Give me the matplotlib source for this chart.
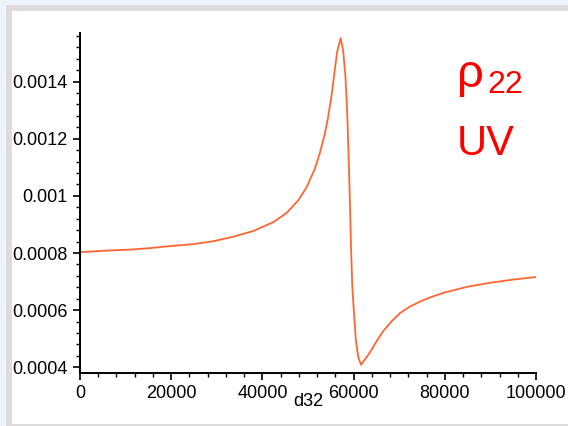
import matplotlib
matplotlib.use("Agg")
import matplotlib.pyplot as plt
from matplotlib.patches import Rectangle
from matplotlib.ticker import MultipleLocator, FixedLocator

# Detuning d32 and population rho_22
d32 = [0, 5500, 11000, 15350, 19000, 24800, 29200, 33600, 38000, 42400,
       45300, 47900, 49700, 51500, 52600, 53700, 54400, 55200, 55700, 56400,
       57150, 57700, 58200, 58600, 58900, 59200, 59400, 59700, 60100, 60500,
       61000, 61600, 62500, 63200, 64000, 65100, 66500, 68400, 70200, 72400,
       74600, 77000, 80000, 85000, 90000, 95000, 100000]
rho22 = [0.000803, 0.000808, 0.000812, 0.000817, 0.000823, 0.000831, 0.000841,
         0.000857, 0.000877, 0.000908, 0.000940, 0.000985, 0.001030, 0.001095,
         0.001150, 0.001218, 0.001275, 0.001355, 0.001420, 0.001505, 0.001552,
         0.001510, 0.001420, 0.001290, 0.001140, 0.000976, 0.000840, 0.000686,
         0.000585, 0.000494, 0.000437, 0.000409, 0.000428, 0.000443, 0.000463,
         0.000493, 0.000527, 0.000562, 0.000590, 0.000613, 0.000630, 0.000646,
         0.000662, 0.000682, 0.000696, 0.000707, 0.000716]

x_ticks = [0, 20000, 40000, 60000, 80000, 100000]
x_tick_labels = ["0", "20000", "40000", "60000", "80000", "100000"]
y_ticks = [0.0004, 0.0006, 0.0008, 0.001, 0.0012, 0.0014]
y_tick_labels = ["0.0004", "0.0006", "0.0008", "0.001", "0.0012", "0.0014"]

W, H = 568, 426
fig = plt.figure(figsize=(W / 100, H / 100), dpi=100, facecolor="#eef4fb")

# Window frame: grey border and white panel
fig.patches.append(Rectangle((6 / W, 0), 1 - 6 / W, (H - 5) / H,
                             transform=fig.transFigure, facecolor="#dcdcdc",
                             edgecolor="none", zorder=-20))
fig.patches.append(Rectangle((12 / W, 2 / H), 1 - 12 / W, (H - 13) / H,
                             transform=fig.transFigure, facecolor="white",
                             edgecolor="none", zorder=-10))

ax = fig.add_axes([80 / W, (H - 373) / H, 456 / W, 340 / H])
ax.set_zorder(1)
ax.patch.set_visible(False)
ax.plot(d32, rho22, color="#ff6633", linewidth=1.3)

ax.set_xlim(0, 100000)
ax.set_ylim(0.00038, 0.00157)

for s in ("top", "right"):
    ax.spines[s].set_visible(False)
for s in ("left", "bottom"):
    ax.spines[s].set_linewidth(1.4)
    ax.spines[s].set_color("black")

tick_font = {"family": "Liberation Sans", "size": 13}
ax.xaxis.set_major_locator(FixedLocator(x_ticks))
ax.set_xticklabels(x_tick_labels, fontdict=tick_font)
ax.yaxis.set_major_locator(FixedLocator(y_ticks))
ax.set_yticklabels(y_tick_labels, fontdict=tick_font)
ax.xaxis.set_minor_locator(MultipleLocator(4000))
ax.yaxis.set_minor_locator(MultipleLocator(0.00004))
ax.tick_params(which="major", direction="out", length=5, width=1.2, pad=4)
ax.tick_params(which="minor", direction="out", length=3, width=1.0)

ax.set_xlabel("d32", fontdict=tick_font)
ax.xaxis.set_label_coords(0.5, -0.085)
ax.xaxis.label.set_va("center")

# Annotation
fig.text(457 / W, 1 - 75 / H, "\u03c1", color="#ff0000", fontsize=34,
         family="Liberation Sans", va="center", ha="left", zorder=2)
fig.text(487 / W, 1 - 93 / H, "22", color="#ff0000", fontsize=23,
         family="Liberation Sans", va="baseline", ha="left", zorder=2)
fig.text(457 / W, 1 - 155 / H, "UV", color="#ff0000", fontsize=30,
         family="Liberation Sans", va="baseline", ha="left", zorder=2)

fig.savefig("out.png", dpi=100, facecolor=fig.get_facecolor())
